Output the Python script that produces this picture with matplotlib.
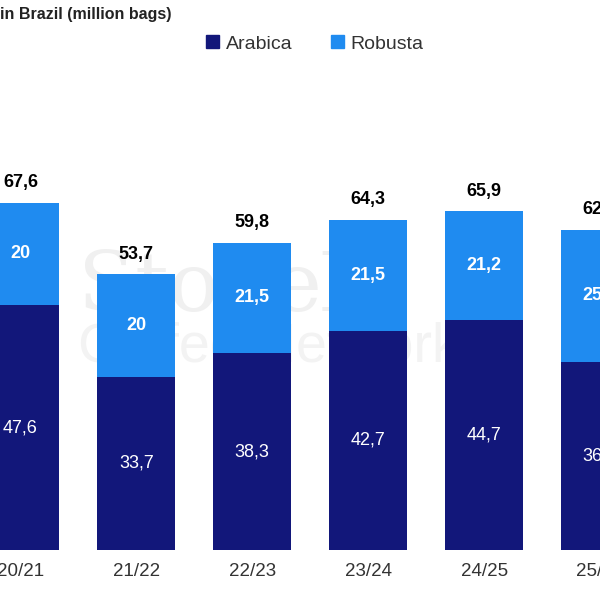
from matplotlib import pyplot as plt
from matplotlib.patches import Patch

plt.rcParams['font.family'] = ['Liberation Sans', 'DejaVu Sans']

seasons = ['20/21', '21/22', '22/23', '23/24', '24/25', '25/26']
arabica = [47.6, 33.7, 38.3, 42.7, 44.7, 36.6]
robusta = [20.0, 20.0, 21.5, 21.5, 21.2, 25.7]
totals = [67.6, 53.7, 59.8, 64.3, 65.9, 62.3]

ARABICA_C = '#12177a'
ROBUSTA_C = '#1f8bf0'


def fmt(v):
    # brazilian decimal comma, integers without decimals
    if float(v).is_integer():
        return str(int(v))
    return ('%.1f' % v).replace('.', ',')


fig = plt.figure(figsize=(6, 6), dpi=100)
ax = fig.add_axes([0, 50 / 600, 1, 550 / 600])

x = list(range(len(seasons)))
w = 0.67
ax.bar(x, arabica, width=w, color=ARABICA_C, label='Arabica', zorder=2)
ax.bar(x, robusta, width=w, bottom=arabica, color=ROBUSTA_C, label='Robusta', zorder=2)

for i in x:
    ax.text(i, arabica[i] / 2, fmt(arabica[i]), ha='center', va='center',
            color='white', fontsize=13, zorder=3)
    ax.text(i, arabica[i] + robusta[i] / 2, fmt(robusta[i]), ha='center', va='center',
            color='white', fontsize=13, fontweight='bold', zorder=3)
    ax.text(i, totals[i] + 2.2, fmt(totals[i]), ha='center', va='bottom',
            color='black', fontsize=13, fontweight='bold', zorder=3)

# faint watermark
ax.text(0.13, 0.52, 'StoneX', transform=fig.transFigure, fontsize=60,
        family='DejaVu Serif', color='#f0f0f0', ha='left', va='center', zorder=1)
ax.text(0.13, 0.42, 'Coffee Network', transform=fig.transFigure, fontsize=40,
        color='#f3f3f3', ha='left', va='center', fontweight='light', zorder=1)

ax.set_xlim(-0.176, 4.98)
ax.set_ylim(0, 107)
ax.set_xticks(x)
ax.set_xticklabels(seasons, fontsize=13.5, color='#333333')
ax.tick_params(axis='x', length=0, pad=9)
ax.set_yticks([])
for s in ax.spines.values():
    s.set_visible(False)

fig.text(0.0, 1 - 14 / 600, 'in Brazil (million bags)', fontsize=11.5, fontweight='bold',
         color='#222222', ha='left', va='center')

handles = [Patch(color=ARABICA_C, label='Arabica'), Patch(color=ROBUSTA_C, label='Robusta')]
fig.legend(handles=handles, loc='center', bbox_to_anchor=(0.525, 1 - 44 / 600), ncol=2,
           frameon=False, fontsize=14, handlelength=0.65, handleheight=0.65,
           handletextpad=0.35, columnspacing=2.0, labelcolor='#333333')

fig.savefig('out.png', dpi=100)
